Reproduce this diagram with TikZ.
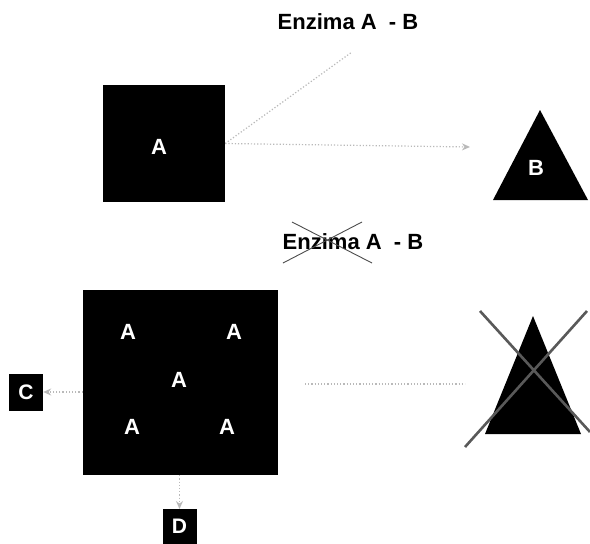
\documentclass[tikz,border=0pt]{standalone}
\usepackage{fontspec}
\setmainfont{Liberation Sans}
\usetikzlibrary{arrows.meta}
\begin{document}
\begin{tikzpicture}[x=1pt,y=-1pt,
  title/.style={font=\fontsize{22}{24}\selectfont\bfseries, text=black, inner sep=0},
  blk/.style={fill=black, draw=none},
  lbl/.style={font=\fontsize{22}{24}\selectfont\bfseries, text=white, inner sep=0},
  smallbox/.style={fill=black, font=\fontsize{21}{24}\selectfont\bfseries, text=white, inner sep=0, minimum width=34pt, minimum height=36pt},
  faint/.style={draw=gray!55, line width=1.2pt, dotted},
  faintarr/.style={faint, -{Stealth[length=8pt,width=7pt]}},
  crossline/.style={draw=gray!70!black, line width=2.6pt},
  thincross/.style={draw=gray!60!black, line width=0.9pt}]
\useasboundingbox (0,0) rectangle (590,544);
\fill[white] (0,0) rectangle (590,544);
% top part
\node[title] (t1) at (348,22) {Enzima A\ \ - B};
\node[blk, minimum width=122pt, minimum height=117pt, inner sep=0] (sqA) at (164,143.5) {};
\node[lbl] (la) at (159,147) {A};
\fill[black] (493,200) -- (540,110) -- (588,200) -- cycle;
\coordinate (triB) at (470,147);
\node[lbl] (lb) at (536,168) {B};
\coordinate (enz1) at (352,52);
\draw[faint] (sqA.east) -- (enz1);
\draw[faintarr] (sqA.east) -- (triB);
% bottom part
\node[title] (t2) at (353,242) {Enzima A\ \ - B};
\draw[thincross] (283,263) -- (362,222);
\draw[thincross] (292,222) -- (372,263);
\node[blk, minimum width=195pt, minimum height=185pt, inner sep=0] (sqB) at (180.5,382.5) {};
\node[lbl] at (128,332) {A};
\node[lbl] at (234,332) {A};
\node[lbl] at (179,380) {A};
\node[lbl] at (132,427) {A};
\node[lbl] at (227,427) {A};
\node[smallbox, minimum height=37pt] (C) at (26,392) {C};
\node[smallbox, minimum height=35pt, anchor=north] (D) at (179.5,509) {D};
\draw[faintarr] (sqB.west |- C) -- (C.east);
\draw[faintarr] (sqB.south -| D) -- (D.north);
\coordinate (m1) at (305,384);
\coordinate (m2) at (465,384);
\draw[faint, line width=1.5pt] (m1) -- (m2);
\fill[black] (485,434) -- (533,316) -- (581,434) -- cycle;
\draw[crossline] (480,311) -- (590,432);
\draw[crossline] (587,311) -- (465,447);
\end{tikzpicture}
\end{document}
